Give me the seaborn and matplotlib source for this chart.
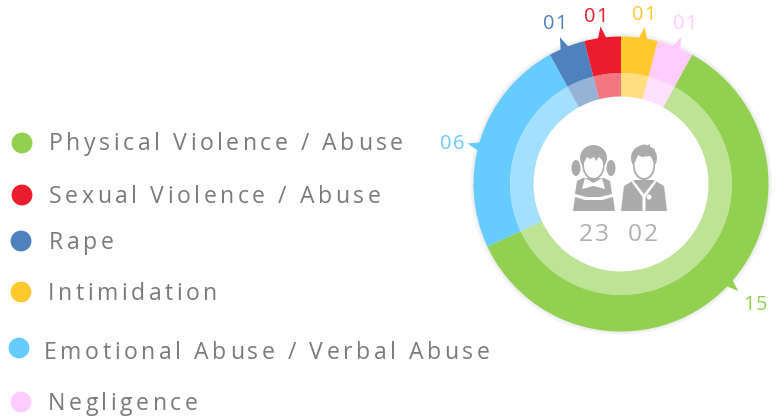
import numpy as np
import pandas as pd
import matplotlib
matplotlib.use("Agg")
import matplotlib.pyplot as plt
from matplotlib.text import Text
from matplotlib.transforms import IdentityTransform, Bbox
from matplotlib.font_manager import findfont, get_font
from matplotlib.ft2font import LoadFlags
from matplotlib.patches import Circle, Ellipse, Polygon
import seaborn as sns

# ---- data ----
categories = ["Physical Violence / Abuse", "Sexual Violence / Abuse", "Rape",
              "Intimidation", "Emotional Abuse / Verbal Abuse", "Negligence"]
counts = [15, 1, 1, 1, 6, 1]
girls = 23
boys = 2
ring_order = ["Physical Violence / Abuse", "Emotional Abuse / Verbal Abuse", "Rape",
              "Sexual Violence / Abuse", "Intimidation", "Negligence"]

# ---- styles / layout ----
colors = {"Physical Violence / Abuse": "#92D14F", "Sexual Violence / Abuse": "#EA1C2D",
          "Rape": "#4F81BD", "Intimidation": "#FFC92E",
          "Emotional Abuse / Verbal Abuse": "#66CCFF", "Negligence": "#FFCCFF"}
dot_xy = [(22, 143), (22, 195), (21, 241), (21, 292), (19, 348), (21, 402)]
text_xy = [(49, 150), (49, 203), (49, 249), (48, 300), (44, 359), (48, 410)]
value_xy = {"Physical Violence / Abuse": (755, 310), "Emotional Abuse / Verbal Abuse": (452, 149),
            "Rape": (555, 29), "Sexual Violence / Abuse": (596, 22),
            "Intimidation": (644, 20), "Negligence": (685, 29)}
tail_offset = {"Physical Violence / Abuse": 4.4, "Emotional Abuse / Verbal Abuse": 3.2,
               "Rape": 1.0, "Sexual Violence / Abuse": 0.2,
               "Intimidation": -1.4, "Negligence": -0.6}
W, H = 777, 419
CX, CY = 621, H - 184
R1, R2, R3 = 147.5, 111, 87.5
FONT = "Open Sans"


class SpacedText(Text):
    """One text artist drawn with extra space between its letters."""

    def __init__(self, *args, spacing=0.0, **kwargs):
        super().__init__(*args, **kwargs)
        self.spacing = spacing

    def _advances(self):
        font = get_font(findfont(self.get_fontproperties()))
        font.set_size(self.get_size(), self.get_figure().dpi)
        return [font.load_char(ord(c), flags=LoadFlags.NO_HINTING).linearHoriAdvance / 65536
                + self.spacing for c in self.get_text()]

    def _start(self):
        adv = self._advances()
        total = sum(adv) - self.spacing
        x, y = self.get_transform().transform(self.get_position())
        shift = {"left": 0, "center": total / 2, "right": total}[self.get_ha()]
        return x - shift, y, adv, total

    def draw(self, renderer):
        if not self.get_visible():
            return
        x, y, adv, _ = self._start()
        for c, a in zip(self.get_text(), adv):
            if c != " ":
                t = Text(x, y, c, transform=IdentityTransform(), color=self.get_color(),
                         fontproperties=self.get_fontproperties(), ha="left", va="baseline")
                t.set_figure(self.get_figure())
                t.draw(renderer)
            x += a

    def get_window_extent(self, renderer=None, dpi=None):
        x, y, _, total = self._start()
        h = self.get_size() * self.get_figure().dpi / 72
        return Bbox.from_extents(x, y - 0.25 * h, x + total, y + 0.8 * h)


def spaced(ax, x, y, s, size_px, spacing, color, ha="left"):
    t = SpacedText(x, H - y, s, spacing=spacing, color=color, ha=ha, va="baseline",
                   fontsize=size_px * 0.72, family=FONT, transform=ax.transData)
    ax.add_artist(t)
    return t


sns.set_theme(style="white")
plt.rcParams["font.family"] = [FONT, "DejaVu Sans"]
fig = plt.figure(figsize=(W / 100, H / 100), dpi=100, facecolor="white")
ax = fig.add_axes([0, 0, 1, 1])

val = dict(zip(categories, counts))
ring_vals = [val[c] for c in ring_order]
ring_cols = [colors[c] for c in ring_order]
start = 90 - 360 * (val["Intimidation"] + val["Negligence"]) / sum(counts)

# soft shadow
for i in range(1, 5):
    ax.add_patch(Circle((CX, CY), R1 + i, fc="#000000", ec="none", alpha=0.02, zorder=1))

outer, _ = ax.pie(ring_vals, colors=ring_cols, radius=R1, center=(CX, CY), startangle=start,
                  counterclock=False, frame=True,
                  wedgeprops=dict(width=R1 - R2, linewidth=0, zorder=2))
ax.pie(ring_vals, colors=ring_cols, radius=R2, center=(CX, CY), startangle=start,
       counterclock=False, frame=True,
       wedgeprops=dict(width=R2 - R3, linewidth=0, alpha=0.6, zorder=2))
ax.set_zorder(1)
ax.add_patch(Circle((CX, CY), R2, fc="white", ec="none", zorder=1.5))

# value callouts
for name, wedge in zip(ring_order, outer):
    mid = (wedge.theta1 + wedge.theta2) / 2
    tip = np.deg2rad(mid + tail_offset[name])
    a = np.deg2rad(mid + tail_offset[name] - 1.7)
    b = np.deg2rad(mid + tail_offset[name] + 1.7)
    pts = [(CX + (R1 - 1) * np.cos(a), CY + (R1 - 1) * np.sin(a)),
           (CX + 159 * np.cos(tip), CY + 159 * np.sin(tip)),
           (CX + (R1 - 1) * np.cos(b), CY + (R1 - 1) * np.sin(b))]
    ax.add_patch(Polygon(pts, closed=True, fc=colors[name], ec="none", zorder=1.8))
    x, y = value_xy[name]
    spaced(ax, x, y, f"{val[name]:02d}", 20, 1.0, colors[name], ha="center")

# legend dots and labels
legend_df = pd.DataFrame({"x": [p[0] for p in dot_xy], "y": [H - p[1] for p in dot_xy],
                          "category": categories})
sns.scatterplot(data=legend_df, x="x", y="y", hue="category", palette=colors, s=225,
                linewidth=0, legend=False, ax=ax, zorder=3)
for (x, y), c in zip(text_xy, categories):
    spaced(ax, x, y, c, 23, 3.55, "#7A7A7A")

# centre icons (drawn in pixel units)
GR = "#ABABAB"


def ell(x, y, rx, ry, c=GR, z=4):
    ax.add_patch(Ellipse((x, H - y), 2 * rx, 2 * ry, fc=c, ec="none", zorder=z))


def poly(pts, c=GR, z=4):
    ax.add_patch(Polygon([(x, H - y) for x, y in pts], closed=True, fc=c, ec="none", zorder=z))


# girl
ell(576, 168, 4.5, 8); ell(611, 168, 4.5, 8)
ell(593.5, 158, 13.5, 13)
ell(593.5, 166, 11, 13.5)
ell(593.5, 165, 9.5, 13, "#FFFFFF", 4.1)
poly([(583, 151), (604, 151), (604, 162), (599, 157), (596, 161), (594, 157), (590, 159), (587, 157), (583, 164)], GR, 4.2)
poly([(583, 178), (604, 178), (610, 181), (612, 194), (600, 197), (587, 197), (575, 194), (577, 181)])
poly([(585, 178), (593.5, 183), (602, 178), (605, 189), (593.5, 186), (582, 189)], "#FFFFFF", 4.1)
poly([(575, 197), (585, 200), (602, 200), (613, 197), (615, 211), (573, 211)])
# boy
ell(644, 158, 13, 13)
poly([(640, 147), (645, 144), (646, 146), (650, 144), (650, 148), (655, 149), (652, 155), (640, 155)])
ell(644, 166, 11, 14)
ell(644, 165, 9.5, 13, "#FFFFFF", 4.1)
poly([(635, 150), (653, 150), (653, 160), (650, 156), (642, 157), (638, 155), (635, 162)], GR, 4.2)
poly([(621, 211), (624, 186), (634, 180), (654, 180), (664, 186), (667, 211)])
poly([(633, 180), (644, 194), (655, 180), (657, 181), (645.5, 197), (645.5, 211), (642.5, 211), (642.5, 197), (631, 181)], "#FFFFFF", 4.1)
ell(649, 197, 2.5, 2.5, "#FFFFFF", 4.2)

spaced(ax, 593.5, 241, f"{girls:02d}", 24.5, 2, "#B0B0B0", ha="center")
spaced(ax, 643, 241, f"{boys:02d}", 24.5, 2, "#B0B0B0", ha="center")

ax.set_xlim(0, W)
ax.set_ylim(0, H)
ax.set_aspect("auto")
ax.axis("off")
fig.savefig("out.png", dpi=100, facecolor="white")
